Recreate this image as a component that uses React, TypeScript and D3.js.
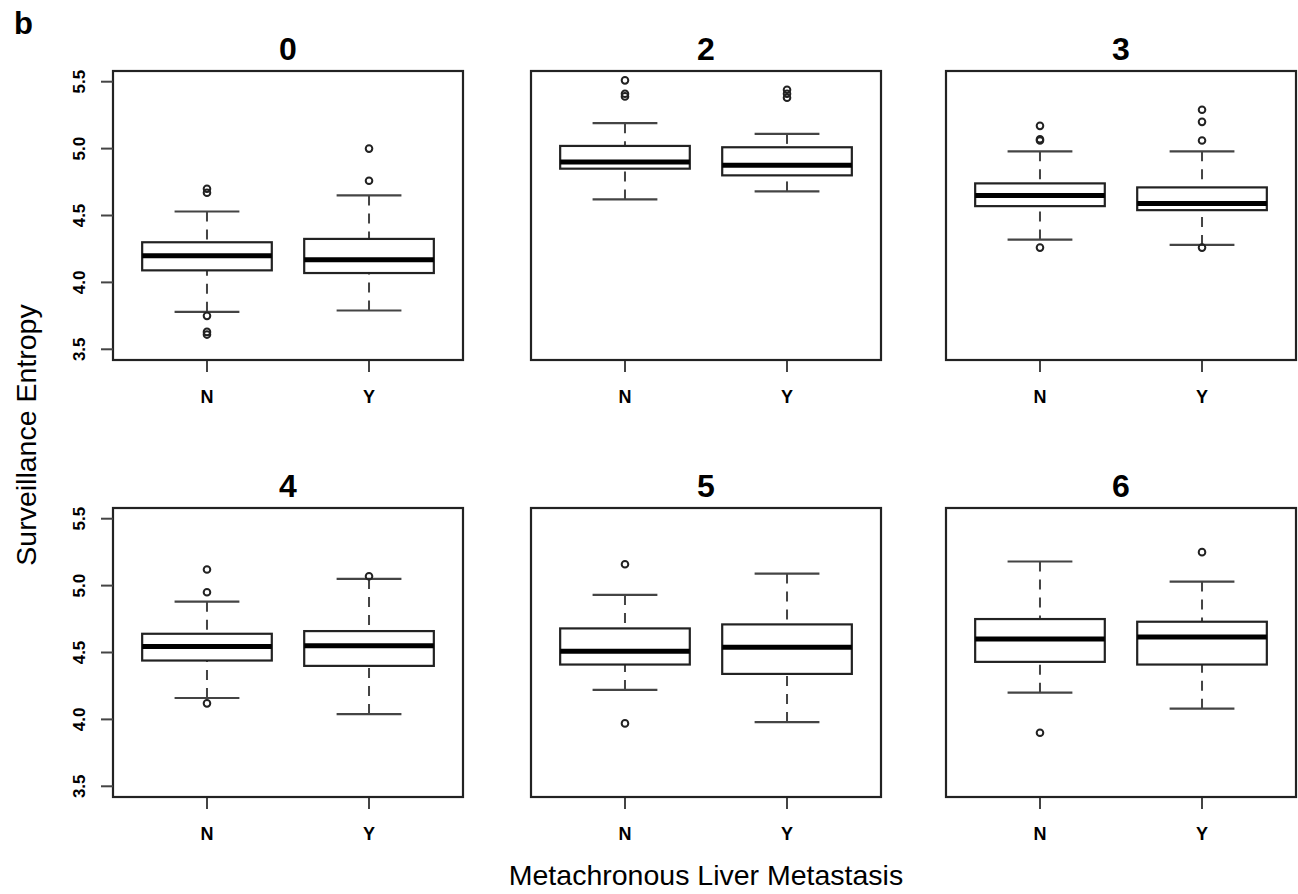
import React, { useEffect, useRef } from "react";
import * as d3 from "d3";

// panel titles and groups
const panels = ["0", "2", "3", "4", "5", "6"];
const groups = ["N", "Y"];
const yTicks = [3.5, 4.0, 4.5, 5.0, 5.5];

// box statistics per panel, [N, Y]
const whiskerLow = [
  [3.78, 3.79], [4.62, 4.68], [4.32, 4.28],
  [4.16, 4.04], [4.22, 3.98], [4.2, 4.08]
];
const q1 = [
  [4.09, 4.07], [4.85, 4.8], [4.57, 4.54],
  [4.44, 4.4], [4.41, 4.34], [4.43, 4.41]
];
const medians = [
  [4.2, 4.17], [4.9, 4.875], [4.65, 4.59],
  [4.545, 4.55], [4.51, 4.54], [4.6, 4.615]
];
const q3 = [
  [4.3, 4.325], [5.02, 5.01], [4.74, 4.71],
  [4.64, 4.66], [4.68, 4.71], [4.75, 4.73]
];
const whiskerHigh = [
  [4.53, 4.65], [5.19, 5.11], [4.98, 4.98],
  [4.88, 5.05], [4.93, 5.09], [5.18, 5.03]
];
const outliers = [
  [[4.7, 4.67, 3.75, 3.63, 3.61], [5.0, 4.76]],
  [[5.51, 5.41, 5.39], [5.44, 5.41, 5.38]],
  [[5.17, 5.07, 5.06, 4.26], [5.29, 5.2, 5.06, 4.26]],
  [[5.12, 4.95, 4.12], [5.07]],
  [[5.16, 3.97], []],
  [[3.9], [5.25]]
];

export default function App() {
  const svgRef = useRef<SVGSVGElement | null>(null);

  useEffect(() => {
    const width = 1298;
    const height = 894;
    const colLeft = [113, 531, 946];
    const panelW = 350;
    const rowTop = [71, 508];
    const panelH = 289;
    const font = "'Liberation Sans', Arial, sans-serif";

    const svg = d3.select(svgRef.current)
      .attr("width", width)
      .attr("height", height)
      .style("font-family", font);

    svg.selectAll("*").remove();

    svg.append("rect").attr("width", width).attr("height", height).attr("fill", "#fff");

    svg.append("text")
      .attr("x", 14).attr("y", 34)
      .attr("font-size", 31).attr("font-weight", "bold")
      .text("b");

    panels.forEach((name, p) => {
      const col = p % 3;
      const row = Math.floor(p / 3);
      const left = colLeft[col];
      const top = rowTop[row];
      const bottom = top + panelH;

      const x = d3.scaleLinear().domain([0.42, 2.58]).range([left, left + panelW]);
      const y = d3.scaleLinear().domain([3.42, 5.58]).range([bottom, top]);

      const g = svg.append("g");

      // title
      g.append("text")
        .attr("x", left + panelW / 2)
        .attr("y", top - 11)
        .attr("text-anchor", "middle")
        .attr("font-size", 32)
        .attr("font-weight", "bold")
        .text(name);

      groups.forEach((grp, i) => {
        const cx = x(i + 1);
        const bx0 = x(i + 1 - 0.4);
        const bx1 = x(i + 1 + 0.4);
        const cx0 = x(i + 1 - 0.2);
        const cx1 = x(i + 1 + 0.2);

        // whiskers (drawn from the cap toward the box)
        [[whiskerLow[p][i], q1[p][i]], [whiskerHigh[p][i], q3[p][i]]].forEach(([a, b]) => {
          g.append("line")
            .attr("x1", cx).attr("x2", cx)
            .attr("y1", y(a)).attr("y2", y(b))
            .attr("stroke", "#444")
            .attr("stroke-width", 2)
            .attr("stroke-dasharray", "10,8");
          g.append("line")
            .attr("x1", cx0).attr("x2", cx1)
            .attr("y1", y(a)).attr("y2", y(a))
            .attr("stroke", "#444")
            .attr("stroke-width", 2.2);
        });

        // box
        g.append("rect")
          .attr("x", bx0)
          .attr("y", y(q3[p][i]))
          .attr("width", bx1 - bx0)
          .attr("height", y(q1[p][i]) - y(q3[p][i]))
          .attr("fill", "#fff")
          .attr("stroke", "#222")
          .attr("stroke-width", 2.2);

        g.append("line")
          .attr("x1", bx0).attr("x2", bx1)
          .attr("y1", y(medians[p][i])).attr("y2", y(medians[p][i]))
          .attr("stroke", "#000")
          .attr("stroke-width", 5);

        g.selectAll(null)
          .data(outliers[p][i])
          .join("circle")
          .attr("cx", cx)
          .attr("cy", d => y(d))
          .attr("r", 3.3)
          .attr("fill", "none")
          .attr("stroke", "#222")
          .attr("stroke-width", 2);

        // x tick + label
        g.append("line")
          .attr("x1", cx).attr("x2", cx)
          .attr("y1", bottom).attr("y2", bottom + 12)
          .attr("stroke", "#444")
          .attr("stroke-width", 2);
        g.append("text")
          .attr("x", cx)
          .attr("y", bottom + 43)
          .attr("text-anchor", "middle")
          .attr("font-size", 18)
          .attr("font-weight", "bold")
          .text(grp);
      });

      // frame
      g.append("rect")
        .attr("x", left).attr("y", top)
        .attr("width", panelW).attr("height", panelH)
        .attr("fill", "none")
        .attr("stroke", "#222")
        .attr("stroke-width", 2.2);

      // y axis only on first column
      if (col === 0) {
        yTicks.forEach(t => {
          g.append("line")
            .attr("x1", left - 12).attr("x2", left)
            .attr("y1", y(t)).attr("y2", y(t))
            .attr("stroke", "#444")
            .attr("stroke-width", 2);
          g.append("text")
            .attr("transform", `translate(${left - 28},${y(t)}) rotate(-90)`)
            .attr("text-anchor", "middle")
            .attr("font-size", 17)
            .attr("font-weight", "bold")
            .text(t.toFixed(1));
        });
      }
    });

    // axis titles
    svg.append("text")
      .attr("transform", `translate(36,435) rotate(-90)`)
      .attr("text-anchor", "middle")
      .attr("font-size", 28.5)
      .text("Surveillance Entropy");

    svg.append("text")
      .attr("x", 706)
      .attr("y", 885)
      .attr("text-anchor", "middle")
      .attr("font-size", 28.5)
      .text("Metachronous Liver Metastasis");
  }, []);

  return (
    <svg ref={svgRef} style={{ position: "absolute", left: 0, top: 0, display: "block" }} />
  );
}
